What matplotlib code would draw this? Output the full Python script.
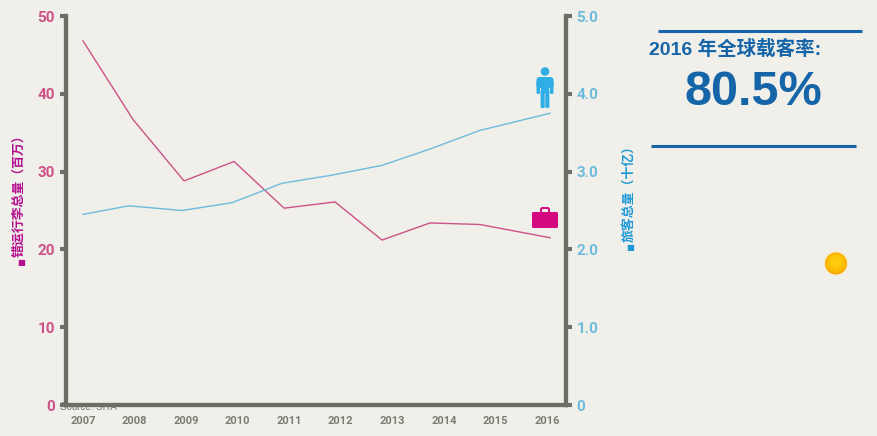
import numpy as np
import matplotlib
matplotlib.use("Agg")
import matplotlib.pyplot as plt
from matplotlib.patches import Circle, FancyBboxPatch, Rectangle
from matplotlib.lines import Line2D

years = [2007, 2008, 2009, 2010, 2011, 2012, 2013, 2014, 2015, 2016]
# the points in the picture do not sit exactly over the year labels
bag_x = [2007, 2007.97, 2008.96, 2009.93, 2010.90, 2011.89, 2012.80, 2013.73, 2014.70, 2016.06]
bags = [46.8, 36.7, 28.8, 31.3, 25.3, 26.1, 21.2, 23.4, 23.2, 21.5]
passenger_x = [2007, 2007.89, 2008.92, 2009.89, 2010.86, 2011.79, 2012.80, 2013.73, 2014.70, 2016.06]
passengers = [2.45, 2.56, 2.50, 2.60, 2.85, 2.95, 3.08, 3.29, 3.53, 3.75]
bag_ticks = [0, 10, 20, 30, 40, 50]
passenger_ticks = [0, 1, 2, 3, 4, 5]
passenger_labels = ["0", "1.0", "2.0", "3.0", "4.0", "5.0"]

W, H = 877, 436
bg = "#f0efe9"
grey = "#6f6e66"
pink = "#cc5288"
sky = "#6dbbdd"
blue = "#1565a8"
tick_font = "Roboto"
cjk = ["Noto Sans CJK SC", "DejaVu Sans"]

fig = plt.figure(figsize=(W / 100, H / 100), dpi=100, facecolor=bg)


def px(x, y):
    # pixel position in the picture -> figure fraction
    return x / W, 1 - y / H


left, right, top, bottom = 65.5, 566, 16, 405
ax = fig.add_axes([left / W, 1 - bottom / H, (right - left) / W, (bottom - top) / H])
ax.set_facecolor(bg)
ax2 = ax.twinx()

step = (547 - 83) / 9
ax.set_xlim(2007 - (83 - left) / step, 2016 + (right - 547) / step)
ax.set_ylim(0, 50)
ax2.set_ylim(0, 5)

ax.plot(bag_x, bags, color=pink, lw=1.0)
ax2.plot(passenger_x, passengers, color=sky, lw=1.0)

ax.spines["top"].set_visible(False)
ax2.spines["top"].set_visible(False)
for a in (ax, ax2):
    for s in ("left", "right", "bottom"):
        a.spines[s].set_color(grey)
        a.spines[s].set_linewidth(3)

ax.set_xticks(years)
ax.set_xticklabels(years, fontfamily=tick_font, fontsize=8, fontweight="bold", color="#7d7c74")
ax.tick_params(axis="x", length=0, pad=8)

ax.set_yticks(bag_ticks)
ax.set_yticklabels(bag_ticks, fontfamily=tick_font, fontsize=11, fontweight="bold", color=pink)
ax.tick_params(axis="y", length=4, width=3, color=grey, pad=3.6)

ax2.set_yticks(passenger_ticks)
ax2.set_yticklabels(passenger_labels, fontfamily=tick_font, fontsize=11, fontweight="bold", color=sky)
ax2.tick_params(axis="y", length=4, width=3, color=grey, pad=3.6)

# axis titles, the little squares are smaller than the text
fig.text(*px(18, 257), "错运行李总量（百万）", rotation=90, ha="center", va="bottom",
         fontfamily=cjk, fontsize=9.3, fontweight="bold", color="#b5108f")
fig.text(*px(21, 262), "■", ha="center", va="center", fontfamily="DejaVu Sans", fontsize=6, color="#b5108f")
fig.text(*px(628, 242), "旅客总量（十亿）", rotation=90, ha="center", va="bottom",
         fontfamily=cjk, fontsize=9.3, fontweight="bold", color="#1f9ad6")
fig.text(*px(630, 247), "■", ha="center", va="center", fontfamily="DejaVu Sans", fontsize=6, color="#1f9ad6")

# source note sits partly under the axis line
fig.text(*px(60, 407), "Source: SITA", ha="left", va="center", fontsize=7,
         fontfamily="Liberation Sans", color="#77766e", zorder=-1)

# callout on the right
fig.add_artist(Line2D([658 / W, 862 / W], [1 - 31 / H] * 2, color=blue, lw=2.2, solid_capstyle="butt"))
fig.add_artist(Line2D([651 / W, 856 / W], [1 - 146 / H] * 2, color=blue, lw=2.2, solid_capstyle="butt"))
fig.text(*px(649, 49), "2016 年全球载客率:", ha="left", va="center",
         fontfamily=["Liberation Sans", "Noto Sans CJK SC"], fontsize=14, fontweight="bold", color=blue)
fig.text(*px(753, 92), "80.5%", ha="center", va="center",
         fontfamily="Liberation Sans", fontsize=35, fontweight="bold", color=blue)

# overlay axes in picture pixels for the icons
ov = fig.add_axes([0, 0, 1, 1], facecolor="none")
ov.set_xlim(0, W)
ov.set_ylim(H, 0)
ov.axis("off")

# passenger icon
person = "#2eaee4"
ov.add_patch(Circle((545, 71.5), 4.3, color=person, lw=0))
ov.add_patch(FancyBboxPatch((536.5, 77), 17, 11, boxstyle="round,pad=0,rounding_size=3", color=person, lw=0))
ov.add_patch(FancyBboxPatch((536.5, 80), 3.6, 14, boxstyle="round,pad=0,rounding_size=1.5", color=person, lw=0))
ov.add_patch(FancyBboxPatch((549.9, 80), 3.6, 14, boxstyle="round,pad=0,rounding_size=1.5", color=person, lw=0))
ov.add_patch(Rectangle((540.6, 84), 8.8, 9, color=person, lw=0))
ov.add_patch(FancyBboxPatch((540.6, 90), 4.1, 18, boxstyle="round,pad=0,rounding_size=1.2", color=person, lw=0))
ov.add_patch(FancyBboxPatch((545.3, 90), 4.1, 18, boxstyle="round,pad=0,rounding_size=1.2", color=person, lw=0))

# suitcase icon
case = "#d4087f"
ov.add_patch(FancyBboxPatch((532, 212), 26, 16, boxstyle="round,pad=0,rounding_size=1.5", color=case, lw=0))
ov.add_patch(FancyBboxPatch((541, 208), 8, 6, boxstyle="round,pad=0,rounding_size=1.5",
                            facecolor="none", edgecolor=case, lw=1.4))

# sun
for r, dy, c in [(12, 0, "#faeec0"), (11, 0, "#f7a500"), (10, -0.5, "#fbb400"), (8.5, -1, "#fdc000"), (6, -1.5, "#fecb10")]:
    ov.add_patch(Circle((836, 263.5 + dy), r, color=c, lw=0))

fig.savefig("out.png", dpi=100, facecolor=bg)
